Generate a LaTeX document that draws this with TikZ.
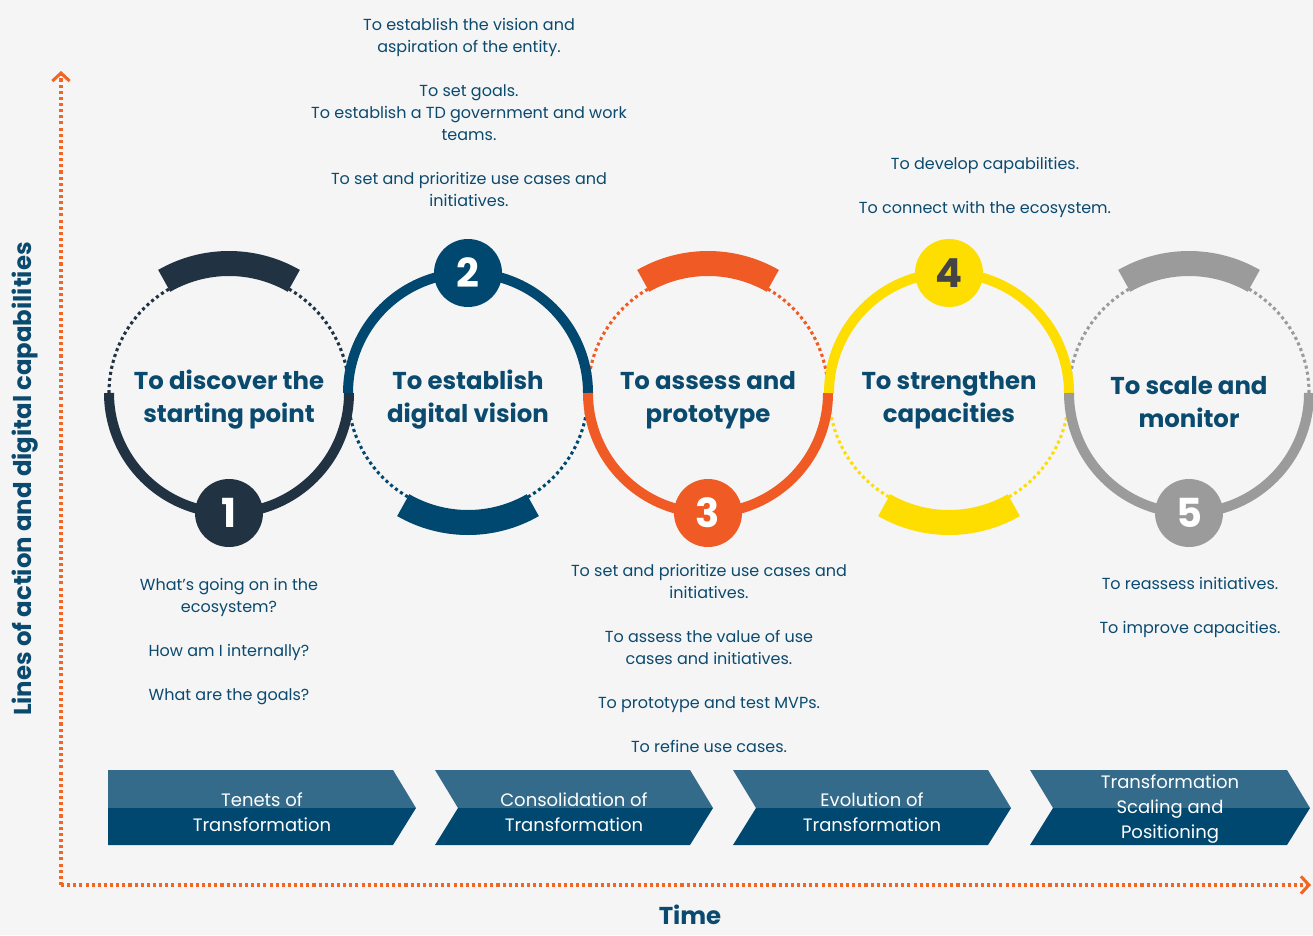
\documentclass[tikz,border=0pt]{standalone}
\usepackage{fontspec}
\setmainfont{Poppins}
\usetikzlibrary{arrows.meta}
\definecolor{bg}{HTML}{F5F5F5}
\definecolor{cA}{HTML}{213243}
\definecolor{cB}{HTML}{00486F}
\definecolor{cC}{HTML}{F05A24}
\definecolor{cD}{HTML}{FEDD00}
\definecolor{cE}{HTML}{9B9B9B}
\definecolor{numgray}{HTML}{444444}
\definecolor{txt}{HTML}{0B4A6F}
\definecolor{chevtop}{HTML}{356B8A}
\definecolor{chevbot}{HTML}{00486F}
\definecolor{axiscol}{HTML}{F26522}
\tikzset{
  dotline/.style={line width=2.3pt, dash pattern=on 2.3pt off 2.3pt},
  solidline/.style={line width=7.5pt},
  bandline/.style={line width=18.75pt},
  titletext/.style={text=txt, align=center, font=\fontsize{18.3}{24.75}\selectfont\bfseries},
  desctext/.style={text=txt, align=center, font=\fontsize{12}{16.5}\selectfont},
  chevtext/.style={text=white, align=center, font=\fontsize{13.5}{18.75}\selectfont},
  numtext/.style={font=\fontsize{30}{30}\selectfont\bfseries},
  axisline/.style={axiscol, line width=2.3pt, dash pattern=on 2.3pt off 2.3pt},
}
% dotted half + band: #1 cx, #2 colour, #3 sign (1 = solid bottom, -1 = solid top)
\newcommand{\stagedots}[3]{%
  \draw[dotline,#2] (#1,393) ++(0:120) arc[start angle=0,end angle={-180*#3},radius=120];
  \draw[bandline,#2] (#1,393) ++({-60*#3}:129.5) arc[start angle={-60*#3},end angle={-120*#3},radius=129.5];
}
\newcommand{\stagesolid}[3]{%
  \draw[solidline,#2] (#1,393) ++(0:120) arc[start angle=0,end angle={180*#3},radius=120];
}
% chevron: #1 x0, #2 x1, #3 notch offset (0 or 23)
\newcommand{\chev}[3]{%
  \fill[chevtop] (#1,770) -- (#2,770) -- ({#2+23},808) -- ({#1+#3},808) -- cycle;
  \fill[chevbot] ({#1+#3},808) -- ({#2+23},808) -- (#2,845) -- (#1,845) -- cycle;
}
\begin{document}
\begin{tikzpicture}[x=0.75pt,y=-0.75pt]
\useasboundingbox (0,0) rectangle (1313,935);
\fill[bg] (0,0) rectangle (1313,935);

% axes
\coordinate (O) at (61,885);
\coordinate (ytop) at (61,71);
\coordinate (xend) at (1311,885);
\draw[axisline, -{Straight Barb[length=6pt,width=13pt,line width=2.3pt]}] (O) -- (ytop);
\draw[axisline, -{Straight Barb[length=6pt,width=13pt,line width=2.3pt]}] (O) -- (xend);
\node[rotate=90, text=txt, font=\fontsize{18.3}{22}\selectfont\bfseries] (ylab) at (25,479) {Lines of action and digital capabilities};
\node[text=txt, inner sep=0pt, font=\fontsize{18.3}{22}\selectfont\bfseries] (xlab) at (690,915) {Time};

% circles: dotted parts and bands
\stagedots{229}{cA}{1}
\stagedots{468}{cB}{-1}
\stagedots{708}{cC}{1}
\stagedots{949}{cD}{-1}
\stagedots{1189}{cE}{1}
% solid parts
\stagesolid{229}{cA}{1}
\stagesolid{468}{cB}{-1}
\stagesolid{708}{cC}{1}
\stagesolid{949}{cD}{-1}
\stagesolid{1189}{cE}{1}

% number discs
\node[circle, fill=cA, text=white, minimum size=51pt, inner sep=0pt, numtext] (n1) at (229,513) {1};
\node[circle, fill=cB, text=white, minimum size=51pt, inner sep=0pt, numtext] (n2) at (468,273) {2};
\node[circle, fill=cC, text=white, minimum size=51pt, inner sep=0pt, numtext] (n3) at (708,513) {3};
\node[circle, fill=cD, text=numgray, minimum size=51pt, inner sep=0pt, numtext] (n4) at (949,273) {4};
\node[circle, fill=cE, text=white, minimum size=51pt, inner sep=0pt, numtext] (n5) at (1189,513) {5};

% titles
\node[titletext] (t1) at (229,400) {To discover the\\starting point};
\node[titletext] (t2) at (468,400) {To establish\\digital vision};
\node[titletext] (t3) at (708,400) {To assess and\\prototype};
\node[titletext] (t4) at (949,400) {To strengthen\\capacities};
\node[titletext] (t5) at (1189,402) {To scale and\\monitor};

% descriptions
\node[desctext, anchor=north] (d2) at (469,14) {To establish the vision and\\aspiration of the entity.\\[16.5pt]To set goals.\\To establish a TD government and work\\teams.\\[16.5pt]To set and prioritize use cases and\\initiatives.};
\node[desctext, anchor=north] (d4) at (985,153) {To develop capabilities.\\[16.5pt]To connect with the ecosystem.};
\node[desctext, anchor=north] (d1) at (229,574) {What's going on in the\\ecosystem?\\[16.5pt]How am I internally?\\[16.5pt]What are the goals?};
\node[desctext, anchor=north] (d3) at (709,560) {To set and prioritize use cases and\\initiatives.\\[16.5pt]To assess the value of use\\cases and initiatives.\\[16.5pt]To prototype and test MVPs.\\[16.5pt]To refine use cases.};
\node[desctext, anchor=north] (d5) at (1190,573) {To reassess initiatives.\\[16.5pt]To improve capacities.};

% chevrons
\chev{108}{393}{0}
\chev{435}{690}{23}
\chev{733}{988}{23}
\chev{1030}{1287}{23}
\node[chevtext] (p1) at (262,812) {Tenets of\\Transformation};
\node[chevtext] (p2) at (574,812) {Consolidation of\\Transformation};
\node[chevtext] (p3) at (872,812) {Evolution of\\Transformation};
\node[chevtext] (p4) at (1170,809) {Transformation\\Scaling and\\Positioning};
\end{tikzpicture}
\end{document}
